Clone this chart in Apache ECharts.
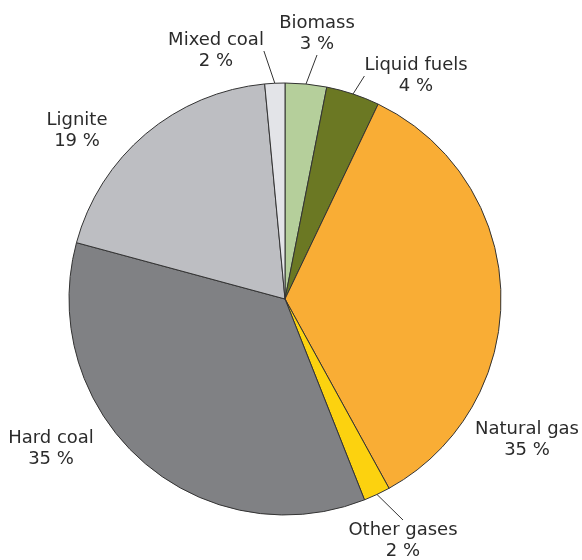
<!DOCTYPE html>
<html>
<head>
<meta charset="utf-8">
<script src="https://cdn.jsdelivr.net/npm/echarts@6/dist/echarts.min.js"></script>
<style>
  html, body { margin: 0; padding: 0; background: #fff; }
  #chart { width: 582px; height: 560px; }
</style>
</head>
<body>
<div id="chart"></div>
<script>
// 数据（按顺时针从正上方开始）
const categories = ['Biomass', 'Liquid fuels', 'Natural gas', 'Other gases', 'Hard coal', 'Lignite', 'Mixed coal'];
const shares = [3.1, 4.0, 34.9, 2.0, 35.2, 19.3, 1.5];
const colors = ['#b5cf9b', '#6b7823', '#f9ad35', '#fcd20f', '#808184', '#bdbec2', '#e3e4e8'];

// 标签位置（文字块中心）
const labelPos = {
  'Biomass': [317, 34],
  'Liquid fuels': [416, 76],
  'Natural gas': [527, 440],
  'Other gases': [403, 541],
  'Hard coal': [51, 449],
  'Lignite': [77, 131],
  'Mixed coal': [216, 51]
};
const withLine = ['Biomass', 'Liquid fuels', 'Other gases', 'Mixed coal'];

const chart = echarts.init(document.getElementById('chart'));

chart.setOption({
  animation: false,
  series: [{
    type: 'pie',
    center: [285, 299],
    radius: 216,
    startAngle: 90,
    clockwise: true,
    data: categories.map((name, i) => ({
      name: name,
      value: shares[i],
      itemStyle: { color: colors[i] },
      labelLine: { show: withLine.includes(name) }
    })),
    itemStyle: {
      borderColor: '#333',
      borderWidth: 1
    },
    label: {
      show: true,
      position: 'outside',
      formatter: p => p.name + '\n' + Math.round(p.value) + ' %',
      fontFamily: 'DejaVu Sans',
      fontSize: 18,
      lineHeight: 21,
      color: '#2b2b2b',
      align: 'center',
      overflow: 'none'
    },
    labelLine: {
      length: 10,
      length2: 0,
      lineStyle: { color: '#333', width: 1 }
    },
    labelLayout(params) {
      const name = categories[params.dataIndex];
      const pos = labelPos[name];
      return {
        x: pos[0],
        y: pos[1],
        align: 'center',
        verticalAlign: 'middle'
      };
    }
  }]
});
</script>
</body>
</html>
